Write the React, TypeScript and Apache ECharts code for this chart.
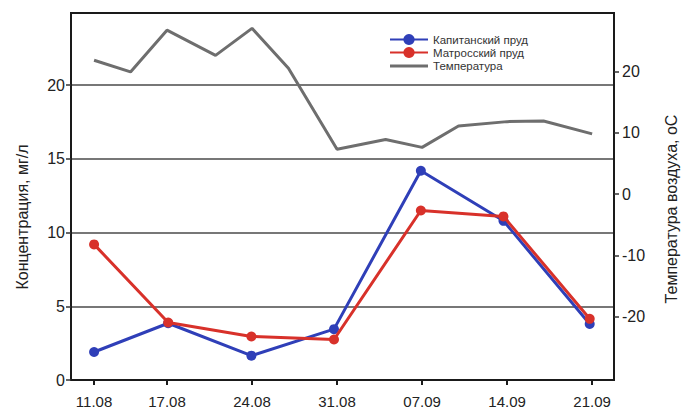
import React, { useEffect, useRef } from "react";
import * as echarts from "echarts";

const dayLabels = ["11.08", "17.08", "24.08", "31.08", "07.09", "14.09", "21.09"];
const dayTicks = [0, 6, 13, 20, 27, 34, 41];
const sampleDays = [0, 6.1, 12.95, 19.75, 26.9, 33.7, 40.8];
const kapitansky = [1.9, 3.85, 1.65, 3.45, 14.2, 10.8, 3.8];
const matrossky = [9.2, 3.9, 2.95, 2.75, 11.5, 11.1, 4.15];
const tempDays = [0, 3, 6, 10, 13, 16, 20, 24, 27, 30, 34, 37, 41];
const temperature = [21.8, 19.9, 26.7, 22.6, 27.0, 20.5, 7.3, 8.9, 7.6, 11.1, 11.8, 11.9, 9.8];
const concTicks = [0, 5, 10, 15, 20];
const tempTicks = [-20, -10, 0, 10, 20];

const FONT = "'Liberation Sans', Arial, sans-serif";
const LINE_ICON = "path://M0,0 M0,5.5 L38,5.5 L38,8.5 L0,8.5 Z M38,14";

export default function App() {
  const ref = useRef<HTMLDivElement>(null);
  useEffect(() => {
    if (!ref.current) return;
    const chart = echarts.init(ref.current, null, { renderer: "svg" });
    const labelMap: Record<number, string> = {};
    dayTicks.forEach((d, i) => (labelMap[d] = dayLabels[i]));
    chart.setOption({
      animation: false,
      backgroundColor: "#ffffff",
      textStyle: { fontFamily: FONT },
      grid: {
        left: 71,
        top: 13,
        width: 543,
        height: 367,
        show: true,
        borderColor: "#1a1a1a",
        borderWidth: 2,
      },
      legend: {
        orient: "vertical",
        left: 384,
        top: 28,
        itemWidth: 38,
        itemHeight: 14,
        itemGap: 0,
        textStyle: { fontSize: 11.5, lineHeight: 13, color: "#333", fontFamily: FONT },
        data: [
          "Капитанский пруд",
          "Матросский пруд",
          { name: "Температура", icon: LINE_ICON },
        ],
      },
      xAxis: {
        type: "value",
        min: -1.9,
        max: 42.8,
        axisLine: { show: true, onZero: false, lineStyle: { color: "#1a1a1a", width: 2 } },
        axisTick: {
          show: true,
          customValues: dayTicks,
          length: 5,
          lineStyle: { color: "#1a1a1a", width: 2 },
        },
        axisLabel: {
          customValues: dayTicks,
          formatter: (v: number) => labelMap[Math.round(v)] ?? "",
          fontSize: 15,
          color: "#222",
          margin: 14,
          fontFamily: FONT,
        },
        splitLine: { show: false },
      },
      yAxis: [
        {
          type: "value",
          min: 0,
          max: 24.9,
          position: "left",
          axisLine: { show: true, onZero: false, lineStyle: { color: "#1a1a1a", width: 2 } },
          axisTick: {
            show: true,
            customValues: concTicks,
            length: 5,
            lineStyle: { color: "#333", width: 1.5 },
          },
          axisLabel: {
            customValues: concTicks,
            fontSize: 16,
            color: "#222",
            margin: 6,
            fontFamily: FONT,
          },
          splitLine: { show: true, lineStyle: { color: "#4a4a4a", width: 1.5 } },
          interval: 5,
        },
        {
          type: "value",
          min: -30.3,
          max: 29.5,
          position: "right",
          axisLine: { show: true, onZero: false, lineStyle: { color: "#1a1a1a", width: 2 } },
          axisTick: {
            show: true,
            customValues: tempTicks,
            length: 5,
            lineStyle: { color: "#333", width: 1.5 },
          },
          axisLabel: {
            customValues: tempTicks,
            fontSize: 16,
            color: "#222",
            margin: 8,
            fontFamily: FONT,
          },
          splitLine: { show: false },
        },
      ],
      graphic: [
        {
          type: "text",
          x: 22,
          y: 217,
          rotation: Math.PI / 2,
          style: {
            text: "Концентрация, мг/л",
            fontSize: 16,
            fill: "#222",
            fontFamily: FONT,
            align: "center",
            verticalAlign: "middle",
          },
        },
        {
          type: "text",
          x: 671,
          y: 209,
          rotation: Math.PI / 2,
          style: {
            text: "Температура воздуха, оС",
            fontSize: 16,
            fill: "#222",
            fontFamily: FONT,
            align: "center",
            verticalAlign: "middle",
          },
        },
      ],
      series: [
        {
          name: "Капитанский пруд",
          type: "line",
          yAxisIndex: 0,
          data: sampleDays.map((d, i) => [d, kapitansky[i]]),
          symbol: "circle",
          symbolSize: 10,
          lineStyle: { color: "#2f3fb8", width: 3 },
          itemStyle: { color: "#2f3fb8" },
          z: 3,
        },
        {
          name: "Матросский пруд",
          type: "line",
          yAxisIndex: 0,
          data: sampleDays.map((d, i) => [d, matrossky[i]]),
          symbol: "circle",
          symbolSize: 10,
          lineStyle: { color: "#d8312a", width: 3 },
          itemStyle: { color: "#d8312a" },
          z: 4,
        },
        {
          name: "Температура",
          type: "line",
          yAxisIndex: 1,
          data: tempDays.map((d, i) => [d, temperature[i]]),
          symbol: "none",
          lineStyle: { color: "#6e6e6e", width: 3 },
          itemStyle: { color: "#6e6e6e" },
          z: 2,
        },
      ],
    });
    return () => chart.dispose();
  }, []);
  return (
    <div
      ref={ref}
      style={{ position: "fixed", left: 0, top: 0, width: 681, height: 412 }}
    />
  );
}
